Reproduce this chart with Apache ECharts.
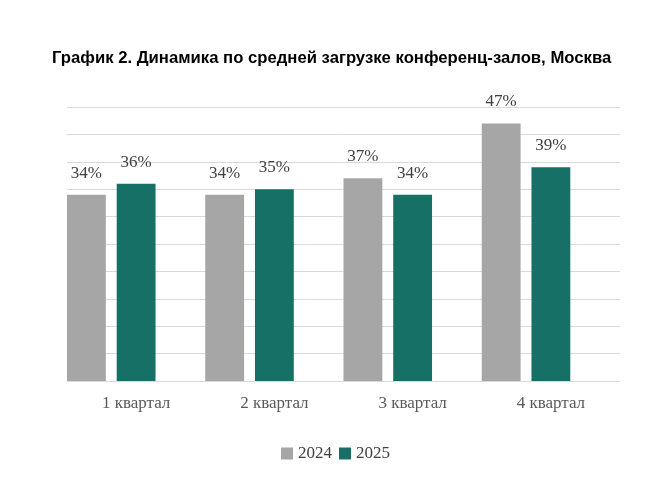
<!DOCTYPE html>
<html>
<head>
<meta charset="utf-8">
<script src="https://cdn.jsdelivr.net/npm/echarts@6/dist/echarts.min.js"></script>
<style>
  html, body { margin: 0; padding: 0; background: #fff; }
  #chart { width: 671px; height: 483px; }
</style>
</head>
<body>
<div id="chart"></div>
<script>
// Data
const quarters = ['1 квартал', '2 квартал', '3 квартал', '4 квартал'];
const seriesNames = ['2024', '2025'];
const values2024 = [34, 34, 37, 47];
const values2025 = [36, 35, 34, 39];

const chart = echarts.init(document.getElementById('chart'));

const labelStyle = {
  show: true,
  position: 'top',
  distance: 13,
  formatter: '{c}%',
  fontFamily: 'Liberation Serif',
  fontSize: 17,
  color: '#404040'
};

const option = {
  backgroundColor: '#fff',
  animation: false,
  title: {
    text: 'График 2. Динамика по средней загрузке конференц-залов, Москва',
    left: 47,
    top: 45,
    textStyle: {
      fontFamily: 'Liberation Sans',
      fontWeight: 'bold',
      fontSize: 16.7,
      color: '#000'
    }
  },
  legend: {
    data: seriesNames,
    top: 440,
    left: 'center',
    icon: 'rect',
    itemWidth: 12,
    itemHeight: 12,
    itemGap: 7,
    textStyle: { fontFamily: 'Liberation Serif', fontSize: 17, color: '#404040' }
  },
  grid: {
    left: 67,
    right: 51,
    top: 107,
    bottom: 102
  },
  xAxis: {
    type: 'category',
    data: quarters,
    axisTick: { show: false },
    axisLine: { lineStyle: { color: '#d9d9d9' } },
    axisLabel: {
      margin: 14,
      fontFamily: 'Liberation Serif',
      fontSize: 17,
      color: '#595959'
    }
  },
  yAxis: {
    type: 'value',
    min: 0,
    max: 50,
    interval: 5,
    axisLabel: { show: false },
    axisLine: { show: false },
    axisTick: { show: false },
    splitLine: { lineStyle: { color: '#d9d9d9' } }
  },
  series: [
    {
      name: '2024',
      type: 'bar',
      data: values2024,
      barCategoryGap: '0%',
      barGap: '28%',
      itemStyle: { color: '#a6a6a6' },
      label: labelStyle
    },
    {
      name: '2025',
      type: 'bar',
      data: values2025,
      itemStyle: { color: '#177065' },
      label: labelStyle
    },
    {
      // empty third slot, keeps the bars on the left side of each quarter
      name: 'spacer',
      type: 'bar',
      data: [],
      itemStyle: { color: 'transparent' }
    }
  ]
};

chart.setOption(option);
</script>
</body>
</html>
